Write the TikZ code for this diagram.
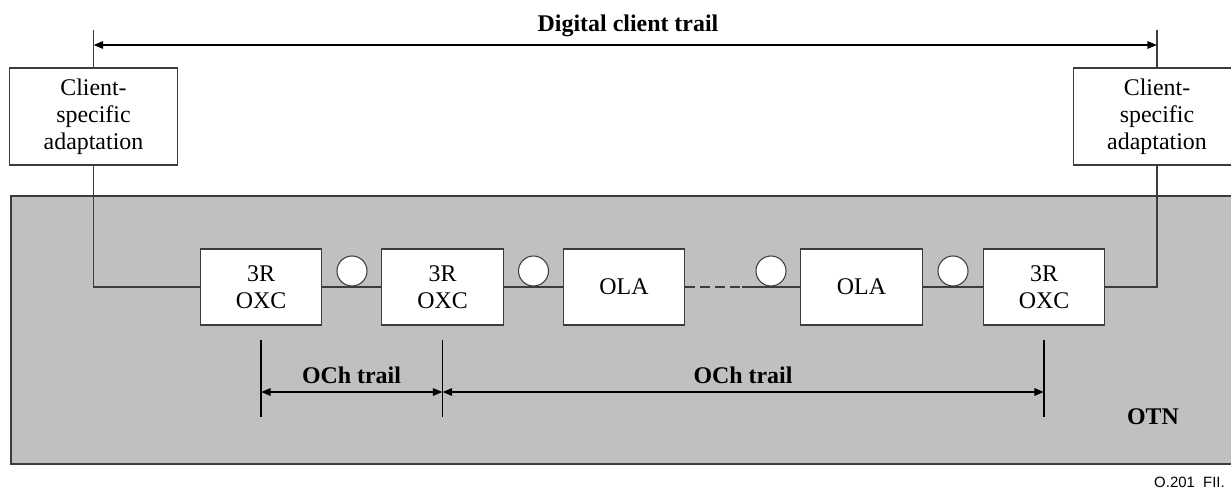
\documentclass[tikz,border=0pt]{standalone}
\usepackage{fontspec}
\setmainfont{Liberation Serif}
\newfontfamily\refsans{Liberation Sans}
\usetikzlibrary{arrows.meta}
\definecolor{otngray}{RGB}{192,192,192}
\definecolor{edgegray}{RGB}{60,60,60}
\newcommand{\figsize}{\fontsize{13.6}{15.4}\selectfont}

\tikzset{
  netbox/.style={draw=edgegray, fill=white, line width=0.6pt, minimum width=24.3mm, minimum height=15.2mm, align=center, inner sep=0pt},
  clientbox/.style={draw=edgegray, fill=white, line width=0.6pt, minimum width=33.5mm, minimum height=19.4mm, align=center, inner sep=0pt},
  amp/.style={circle, draw=edgegray, fill=white, line width=0.6pt, minimum size=6mm, inner sep=0pt},
  link/.style={edgegray, line width=0.6pt},
  endmark/.style={black, line width=1.1pt},
  trail/.style={black, line width=1.1pt, {Triangle[length=5.5pt,width=4.2pt]}-{Triangle[length=5.5pt,width=4.2pt]}},
  trailtext/.style={font=\figsize\bfseries, anchor=base}
}

\begin{document}
\begin{tikzpicture}[x=0.2mm, y=-0.2mm, font=\figsize]
    \clip (0,0) rectangle (1231,490);

    % OTN domain in the background
    \fill[otngray] (11,196) rectangle (1245,464);
    \draw[edgegray, line width=1pt] (1245,196) -- (11,196) -- (11,464) -- (1245,464);

    % Client adaptation at both ends
    \node[clientbox] (cl) at (93.5,116.5) {Client-\\specific\\adaptation};
    \node[clientbox] (cr) at (1157,116.5) {Client-\\specific\\adaptation};
    \coordinate (tl) at (93.5,30);
    \coordinate (tr) at (1157,30);
    \coordinate (al) at (93.5,45);
    \coordinate (ar) at (1157,45);
    \draw[link] (tl) -- (cl.north);
    \draw[link] (tr) -- (cr.north);
    \draw[trail] (al) -- (ar);
    \node[trailtext] (dct) at (628,32) {Digital client trail};

    % Network elements along the optical path
    \node[netbox] (oxc1) at (261,287) {3R\\OXC};
    \node[netbox] (oxc2) at (442.5,287) {3R\\OXC};
    \node[netbox] (ola1) at (624,287) {OLA};
    \node[netbox] (ola2) at (861.5,287) {OLA};
    \node[netbox] (oxc3) at (1044,287) {3R\\OXC};
    \coordinate (gap) at (742,287);

    \draw[link] (cl.south) |- (oxc1.west);
    \draw[link] (oxc1) -- (oxc2);
    \draw[link] (oxc2) -- (ola1);
    \draw[link, dash pattern=on 2mm off 1mm] (ola1.east) -- (gap);
    \draw[link] (gap) -- (ola2.west);
    \draw[link] (ola2) -- (oxc3);
    \draw[link] (oxc3.east) -| (cr.south);

    % Amplifier sites sitting on the fibre
    \node[amp] (amp1) at (352,271) {};
    \node[amp] (amp2) at (533.5,271) {};
    \node[amp] (amp3) at (771,271) {};
    \node[amp] (amp4) at (953,271) {};

    % OCh trails between the 3R points
    \coordinate (m1) at (261,340);
    \coordinate (n1) at (261,417);
    \coordinate (m2) at (442.5,340);
    \coordinate (n2) at (442.5,417);
    \coordinate (m3) at (1044,340);
    \coordinate (n3) at (1044,417);
    \coordinate (a1) at (261,392);
    \coordinate (a2) at (442.5,392);
    \coordinate (a3) at (1044,392);
    \draw[endmark] (m1) -- (n1);
    \draw[endmark] (m2) -- (n2);
    \draw[endmark] (m3) -- (n3);
    \draw[trail] (a1) -- (a2);
    \draw[trail] (a2) -- (a3);
    \node[trailtext] (och1) at (351.5,383) {OCh trail};
    \node[trailtext] (och2) at (743,383) {OCh trail};

    \node[trailtext] (otn) at (1153,424) {OTN};
    \node[anchor=base east, font=\refsans\fontsize{8.5}{10}\selectfont] (fig) at (1231,487) {O.201~ FII.};
\end{tikzpicture}
\end{document}
